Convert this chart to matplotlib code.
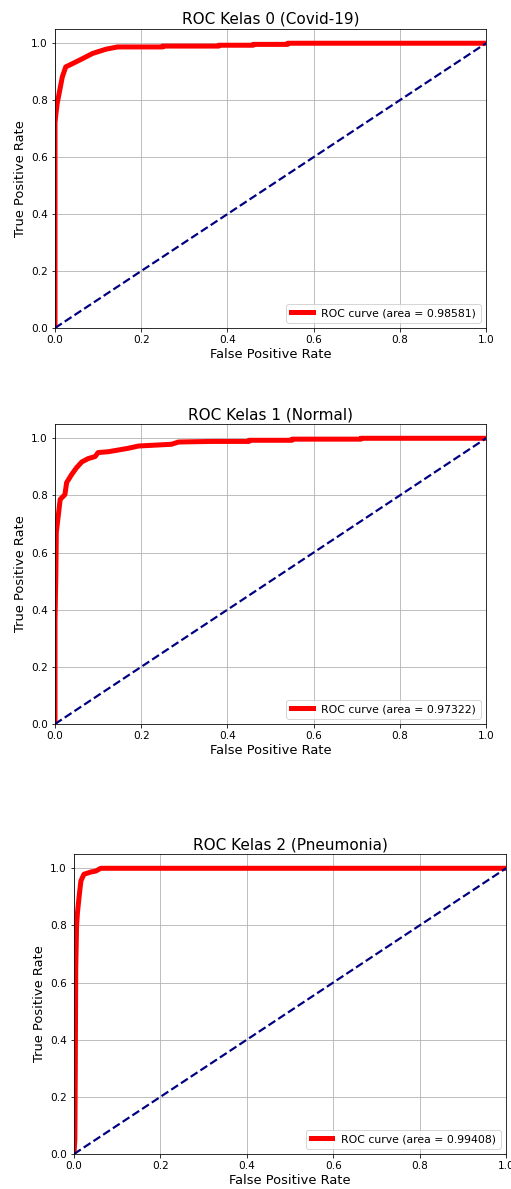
import matplotlib.pyplot as plt
import numpy as np

# ROC points (fpr, tpr) for each class
fpr0 = [0.0, 0.0, 0.002, 0.005, 0.011, 0.017, 0.025, 0.04, 0.064, 0.087, 0.118, 0.145,
        0.25, 0.25, 0.38, 0.38, 0.46, 0.46, 0.54, 0.54, 1.0]
tpr0 = [0.0, 0.72, 0.75, 0.788, 0.835, 0.882, 0.917, 0.928, 0.946, 0.964, 0.979, 0.987,
        0.987, 0.99, 0.99, 0.993, 0.993, 0.996, 0.996, 1.0, 1.0]

fpr1 = [0.0, 0.0, 0.001, 0.002, 0.003, 0.012, 0.023, 0.027, 0.039, 0.05, 0.062, 0.077,
        0.093, 0.10, 0.124, 0.147, 0.17, 0.194, 0.27, 0.287, 0.364, 0.45, 0.45,
        0.55, 0.55, 0.71, 0.71, 1.0]
tpr1 = [0.0, 0.36, 0.447, 0.53, 0.67, 0.786, 0.803, 0.845, 0.874, 0.897, 0.917, 0.929,
        0.936, 0.95, 0.953, 0.959, 0.965, 0.973, 0.979, 0.987, 0.989, 0.989, 0.993,
        0.993, 0.997, 0.997, 1.0, 1.0]

fpr2 = [0.0, 0.002, 0.003, 0.004, 0.006, 0.008, 0.012, 0.016, 0.023, 0.039, 0.05, 0.062, 1.0]
tpr2 = [0.0, 0.05, 0.3, 0.646, 0.798, 0.845, 0.903, 0.956, 0.979, 0.987, 0.99, 1.0, 1.0]

aucs = [0.98581, 0.97322, 0.99408]
titles = ["ROC Kelas 0 (Covid-19)", "ROC Kelas 1 (Normal)", "ROC Kelas 2 (Pneumonia)"]

W, H = 511, 1189
fig = plt.figure(figsize=(W / 72, H / 72), dpi=72)

# axes boxes in pixels: left, top, right, bottom
boxes = [(55, 29, 486, 328), (55, 424, 486, 724), (74, 854, 506, 1154)]

curves = [(fpr0, tpr0), (fpr1, tpr1), (fpr2, tpr2)]
for (fpr, tpr), auc, title, (l, t, r, b) in zip(curves, aucs, titles, boxes):
    ax = fig.add_axes([l / W, 1 - b / H, (r - l) / W, (b - t) / H])
    ax.plot(fpr, tpr, color='red', lw=5, label='ROC curve (area = %0.5f)' % auc)
    ax.plot([0, 1], [0, 1], color='navy', lw=2.2, linestyle='--')
    ax.set_xlim([0.0, 1.0])
    ax.set_ylim([0.0, 1.05])
    ax.set_xticks(np.arange(0, 1.01, 0.2))
    ax.set_yticks(np.arange(0, 1.01, 0.2))
    ax.tick_params(labelsize=10.5)
    ax.set_xlabel('False Positive Rate', fontsize=13, labelpad=3)
    ax.set_ylabel('True Positive Rate', fontsize=13)
    ax.set_title(title, fontsize=15.3, pad=5)
    ax.grid(True)
    ax.legend(loc="lower right", fontsize=10.9)

fig.savefig("out.png", dpi=72)
